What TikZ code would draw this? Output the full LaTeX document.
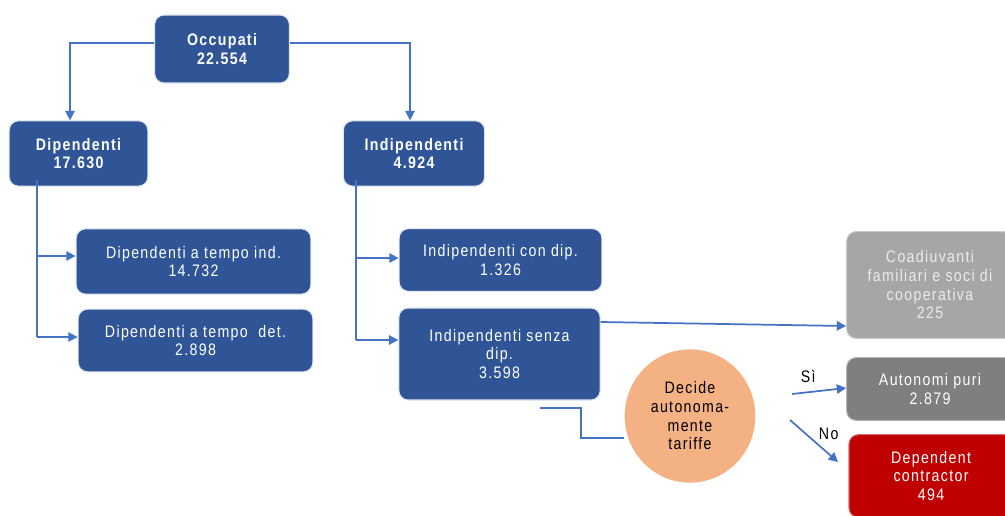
\documentclass[tikz,border=0pt]{standalone}
\usepackage{fontspec}
\setmainfont{Liberation Sans}[FakeStretch=0.85,LetterSpace=8]
\usetikzlibrary{arrows.meta,shapes.geometric}
\definecolor{boxblue}{HTML}{2F5597}
\definecolor{linkblue}{HTML}{4472C4}
\definecolor{lgray}{HTML}{A6A6A6}
\definecolor{dgray}{HTML}{7F7F7F}
\definecolor{dred}{HTML}{C00000}
\definecolor{peach}{HTML}{F4B183}
\tikzset{
  txt/.style={font=\fontsize{12.5}{14}\selectfont},
  bx/.style={txt, draw=white!85!boxblue, line width=0.8pt, rounded corners=7pt, fill=boxblue, text=white, align=center, inner sep=0pt},
  bold/.style={font=\bfseries\fontsize{12.5}{14}\selectfont},
  link/.style={draw=linkblue, line width=1.3pt},
  arr/.style={link, -{Triangle[length=7pt,width=7pt]}},
}
\begin{document}
\begin{tikzpicture}[x=0.75pt,y=-0.75pt]
\useasboundingbox (0,0) rectangle (1005,515);
% boxes
\node[bx,bold,minimum width=101pt,minimum height=51pt] (occ) at (222,49) {Occupati\\22.554};
\node[bx,bold,minimum width=104pt,minimum height=49pt] (dip) at (78.5,153.5) {Dipendenti\\17.630};
\node[bx,bold,minimum width=106pt,minimum height=49pt] (ind) at (414,153.5) {Indipendenti\\4.924};
\node[bx,minimum width=176pt,minimum height=49pt] (dti) at (193.5,261.5) {Dipendenti a tempo ind.\\14.732};
\node[bx,minimum width=176pt,minimum height=47pt] (dtd) at (195.5,340.5) {Dipendenti a tempo\ \ det.\\2.898};
\node[bx,minimum width=152pt,minimum height=47pt] (icd) at (500.5,260) {Indipendenti con dip.\\1.326};
\node[bx,minimum width=151pt,minimum height=69pt] (isd) at (499.5,354) {Indipendenti senza\\dip.\\3.598};
\node[bx,fill=lgray,draw=lgray!60!white,text=white!92!black,minimum width=125pt,minimum height=80pt] (coa) at (930,285) {Coadiuvanti\\familiari e soci di\\cooperativa\\225};
\node[bx,fill=dgray,draw=dgray!60!white,minimum width=125pt,minimum height=47pt] (aut) at (930,389) {Autonomi puri\\2.879};
\node[bx,fill=dred,draw=dred!60!white,minimum width=123pt,minimum height=62pt] (dep) at (931,476) {Dependent\\contractor\\494};
\node[txt,ellipse,fill=peach,minimum width=98pt,minimum height=100pt,inner sep=0pt,align=center] (dec) at (690,416) {Decide\\autonoma-\\mente\\tariffe};
% connectors
\draw[arr] (occ.west |- 0,43) -| (dip.north -| 70,0);
\draw[arr] (occ.east |- 0,43) -| (ind.north -| 410,0);
\coordinate (dl) at (37,180);
\draw[link] (dl) -- (37,337);
\draw[arr] (37,256) -- (dti.west |- 0,256);
\draw[arr] (37,337) -- (dtd.west |- 0,337);
\coordinate (il) at (356,180);
\draw[link] (il) -- (356,340);
\draw[arr] (356,258) -- (icd.west |- 0,258);
\draw[arr] (356,340) -- (isd.west |- 0,340);
\draw[arr] (isd.east |- 0,322) -- (coa.west |- 0,326);
\coordinate (sd) at (540,408);
\draw[draw=linkblue, line width=1pt] (sd) -- (581,408) -- (581,438) -- (dec.west |- 0,438);
\draw[arr] (792,394) -- (aut.west |- 0,388) node[txt,pos=0.3,above,yshift=3pt] (si) {Sì};
\draw[arr] (790,420) -- (838,462) node[txt,pos=0.75,above,yshift=5pt,xshift=2pt] (no) {No};
\end{tikzpicture}
\end{document}
